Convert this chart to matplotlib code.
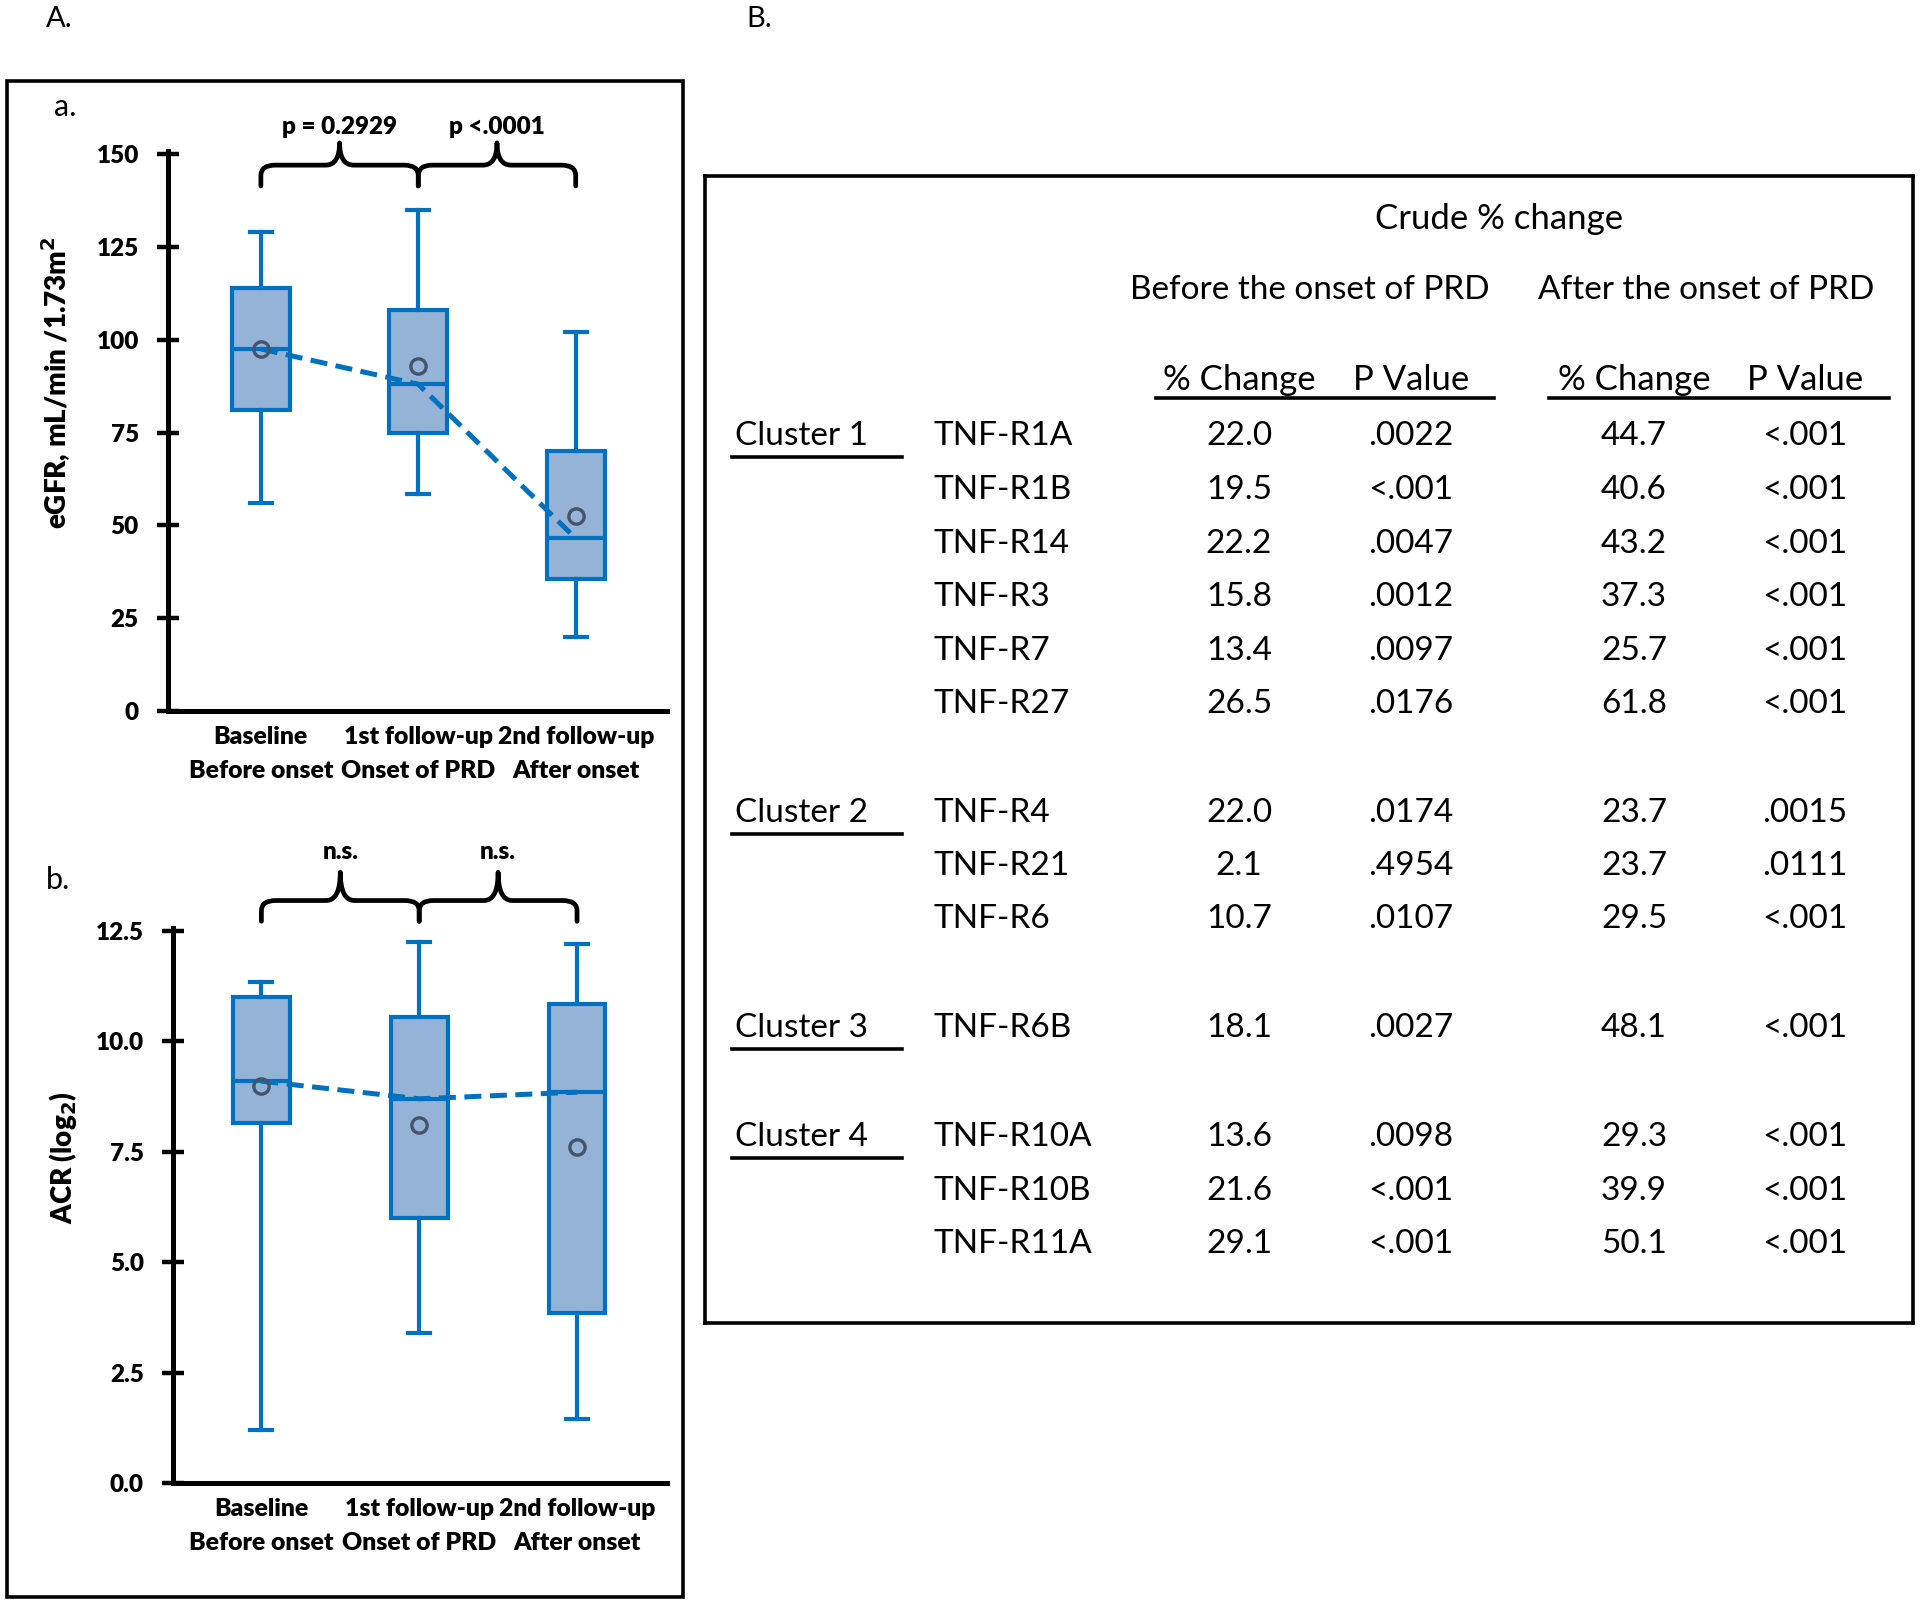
import matplotlib
matplotlib.use("Agg")
import matplotlib.pyplot as plt
from matplotlib.path import Path
from matplotlib.patches import PathPatch, Rectangle

plt.rcParams['font.family'] = ['Lato', 'DejaVu Sans']

# ---- data ----
groups = ["Baseline\nBefore onset", "1st follow-up\nOnset of PRD", "2nd follow-up\nAfter onset"]

egfr_low = [56, 58.5, 20]
egfr_q1 = [81, 75, 35.5]
egfr_med = [97.5, 88, 46.5]
egfr_q3 = [114, 108, 70]
egfr_high = [129, 135, 102]
egfr_mean = [97.5, 93, 52.5]
egfr_p = ["p = 0.2929", "p <.0001"]

acr_low = [1.2, 3.4, 1.45]
acr_q1 = [8.15, 6.0, 3.85]
acr_med = [9.1, 8.7, 8.85]
acr_q3 = [11.0, 10.55, 10.85]
acr_high = [11.35, 12.25, 12.2]
acr_mean = [9.0, 8.1, 7.6]
acr_p = ["n.s.", "n.s."]

clusters = ["Cluster 1"] * 6 + ["Cluster 2"] * 3 + ["Cluster 3"] + ["Cluster 4"] * 3
receptors = ["TNF-R1A", "TNF-R1B", "TNF-R14", "TNF-R3", "TNF-R7", "TNF-R27",
             "TNF-R4", "TNF-R21", "TNF-R6", "TNF-R6B",
             "TNF-R10A", "TNF-R10B", "TNF-R11A"]
before_chg = ["22.0", "19.5", "22.2", "15.8", "13.4", "26.5",
              "22.0", "2.1", "10.7", "18.1", "13.6", "21.6", "29.1"]
before_p = [".0022", "<.001", ".0047", ".0012", ".0097", ".0176",
            ".0174", ".4954", ".0107", ".0027", ".0098", "<.001", "<.001"]
after_chg = ["44.7", "40.6", "43.2", "37.3", "25.7", "61.8",
             "23.7", "23.7", "29.5", "48.1", "29.3", "39.9", "50.1"]
after_p = ["<.001", "<.001", "<.001", "<.001", "<.001", "<.001",
           ".0015", ".0111", "<.001", "<.001", "<.001", "<.001", "<.001"]

BLUE = "#0070C0"
FILL = "#95B3D7"
MEANC = "#44546A"

W, H = 1920, 1604
fig = plt.figure(figsize=(W / 100, H / 100), dpi=100)


def fax(x0, y0, x1, y1):
    # pixel box (top-left origin) -> figure axes
    return fig.add_axes([x0 / W, 1 - y1 / H, (x1 - x0) / W, (y1 - y0) / H])


def brace(ax, x1, x2, y0, y1, y2, rx=0.09):
    xm = (x1 + x2) / 2
    r = (y1 - y0) * 0.5
    verts = [(x1, y0), (x1, y1 - r), (x1, y1), (x1 + rx, y1),
             (xm - rx, y1), (xm, y1), (xm, y2),
             (xm, y1), (xm + rx, y1),
             (x2 - rx, y1), (x2, y1), (x2, y1 - r), (x2, y0)]
    codes = [Path.MOVETO, Path.LINETO, Path.CURVE3, Path.CURVE3,
             Path.LINETO, Path.CURVE3, Path.CURVE3,
             Path.CURVE3, Path.CURVE3,
             Path.LINETO, Path.CURVE3, Path.CURVE3, Path.LINETO]
    ax.add_patch(PathPatch(Path(verts, codes), fill=False, lw=3.4, color="black",
                           clip_on=False, capstyle="round", joinstyle="round"))


def boxpanel(ax, low, q1, med, q3, high, mean, ptxt, ylim, yticks, fmt, ylabel,
             xlim, width, by0, by1, by2, ty):
    stats = [dict(whislo=a, q1=b, med=c, q3=d, whishi=e, fliers=[])
             for a, b, c, d, e in zip(low, q1, med, q3, high)]
    pos = [1, 2, 3]
    ax.bxp(stats, positions=pos, widths=width, patch_artist=True, showfliers=False,
           boxprops=dict(facecolor=FILL, edgecolor=BLUE, lw=3),
           medianprops=dict(color=BLUE, lw=3),
           whiskerprops=dict(color=BLUE, lw=3),
           capprops=dict(color=BLUE, lw=3), capwidths=0.14)
    ax.plot(pos, med, ls=(0, (3.4, 1.7)), color=BLUE, lw=3.6, zorder=4)
    ax.plot(pos, mean, ls="none", marker="o", ms=11, mfc="none", mec=MEANC, mew=2.4, zorder=5)
    ax.set_xlim(*xlim)
    ax.set_ylim(*ylim)
    ax.set_yticks(yticks)
    ax.set_yticklabels([fmt.format(v) for v in yticks], fontweight="heavy", fontsize=17.5)
    ax.set_xticks(pos)
    ax.set_xticklabels(groups, fontweight="heavy", fontsize=17.8, linespacing=1.65)
    ax.tick_params(axis="y", direction="inout", length=16, width=3.2, pad=13)
    ax.tick_params(axis="x", length=0, pad=11)
    for s in ["top", "right"]:
        ax.spines[s].set_visible(False)
    for s in ["left", "bottom"]:
        ax.spines[s].set_linewidth(3.6)
    ax.spines["left"].set_bounds(ylim[0], ylim[1] * 1.005)
    ax.set_ylabel(ylabel, fontweight="heavy", fontsize=20)
    ax.yaxis.set_label_coords(-0.19, 0.59)
    brace(ax, 1, 2, by0, by1, by2)
    brace(ax, 2, 3, by0, by1, by2)
    ax.text(1.5, ty, ptxt[0], ha="center", va="center", fontsize=17.5, fontweight="heavy")
    ax.text(2.5, ty, ptxt[1], ha="center", va="center", fontsize=17.5, fontweight="heavy")


ax1 = fax(168, 154, 667, 711)
boxpanel(ax1, egfr_low, egfr_q1, egfr_med, egfr_q3, egfr_high, egfr_mean, egfr_p,
         (0, 150), [0, 25, 50, 75, 100, 125, 150], "{:g}",
         "eGFR, mL/min /1.73m$^{\\mathbf{2}}$", (0.41, 3.58), 0.37,
         141.4, 147.0, 153.0, 157.3)

ax2 = fax(173, 931, 667, 1483)
boxpanel(ax2, acr_low, acr_q1, acr_med, acr_q3, acr_high, acr_mean, acr_p,
         (0, 12.5), [0, 2.5, 5, 7.5, 10, 12.5], "{:.1f}",
         "ACR (log$_{\\mathbf{2}}$)", (0.44, 3.57), 0.36,
         12.72, 13.19, 13.83, 14.3)

# panel labels and frames
fig.text(46 / W, 1 - 19 / H, "A.", fontsize=21, va="center")
fig.text(746 / W, 1 - 19 / H, "B.", fontsize=21, va="center")
fig.text(54 / W, 1 - 107 / H, "a.", fontsize=22, va="center")
fig.text(46 / W, 1 - 880 / H, "b.", fontsize=22, va="center")
fig.patches.append(Rectangle((7 / W, 1 - 1597 / H), (683 - 7) / W, (1597 - 81) / H,
                             transform=fig.transFigure, fill=False, lw=2.6, ec="black"))

# ---- table ----
tx = fax(705, 176, 1913, 1323)
tx.set_xlim(705, 1913)
tx.set_ylim(1323, 176)
tx.set_xticks([])
tx.set_yticks([])
for s in tx.spines.values():
    s.set_linewidth(2.6)

FS = 24
tx.text(1499, 219, "Crude % change", ha="center", va="center", fontsize=25)
tx.text(1310, 290, "Before the onset of PRD", ha="center", va="center", fontsize=FS)
tx.text(1706, 290, "After the onset of PRD", ha="center", va="center", fontsize=FS)
col_x = [1239, 1411, 1634, 1805]
for cx, lab in zip(col_x, ["% Change", "P Value", "% Change", "P Value"]):
    tx.text(cx, 380, lab, ha="center", va="center", fontsize=25)
tx.plot([1156, 1494], [398, 398], color="black", lw=2.6)
tx.plot([1549, 1889], [398, 398], color="black", lw=2.6)

row_y = [436, 490, 544, 597, 651, 704, 813, 866, 919, 1028, 1137, 1191, 1244]
seen = set()
for i, y in enumerate(row_y):
    if clusters[i] not in seen:
        seen.add(clusters[i])
        tx.text(735, y, clusters[i], ha="left", va="center", fontsize=FS)
        tx.plot([732, 902], [y + 21, y + 21], color="black", lw=2.6)
    tx.text(933, y, receptors[i], ha="left", va="center", fontsize=FS)
    for cx, vals in zip(col_x, [before_chg, before_p, after_chg, after_p]):
        tx.text(cx, y, vals[i], ha="center", va="center", fontsize=FS)

fig.savefig("out.png", dpi=100)
